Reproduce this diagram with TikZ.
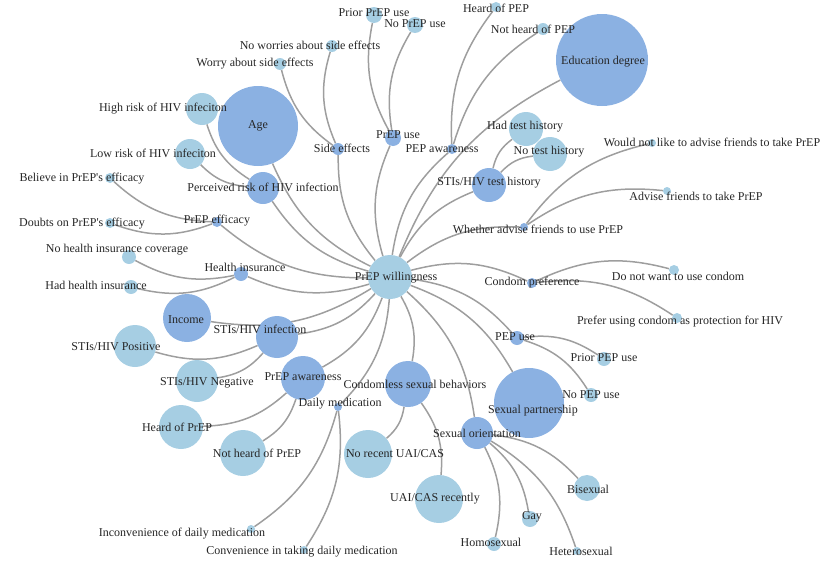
\documentclass[tikz,border=0pt]{standalone}
\usepackage{fontspec}
\setmainfont{Liberation Serif}
\usepackage{tikz}
\usetikzlibrary{backgrounds}

\definecolor{catblue}{RGB}{139,177,226}
\definecolor{lvlblue}{RGB}{166,206,227}
\definecolor{edgegray}{RGB}{158,158,158}

\begin{document}
\begin{tikzpicture}[
    x=1pt, y=-1pt,
    cat/.style={circle, fill=catblue, inner sep=0pt},
    lvl/.style={circle, fill=lvlblue, inner sep=0pt},
    lab/.style={font=\fontsize{12}{14}\selectfont, text=black!85, inner sep=0pt},
    edge/.style={draw=edgegray, line width=1.5pt, bend left=20}
]
\useasboundingbox (0,0) rectangle (831,565);

% centre
\node[lvl, minimum size=44pt] (will) at (390,277) {};

% factors
\node[cat, minimum size=80pt] (age) at (258,126) {};
\node[cat, minimum size=32pt] (risk) at (263,188) {};
\node[cat, minimum size=12pt] (side) at (338,149) {};
\node[cat, minimum size=16pt] (pruse) at (393,138) {};
\node[cat, minimum size=10pt] (pepaw) at (452,149) {};
\node[cat, minimum size=92pt] (edu) at (602,60) {};
\node[cat, minimum size=34pt] (test) at (489,185) {};
\node[cat, minimum size=8pt] (advise) at (524,227) {};
\node[cat, minimum size=10pt] (condom) at (532,283) {};
\node[cat, minimum size=14pt] (pepuse) at (517,338) {};
\node[cat, minimum size=70pt] (partner) at (529,403) {};
\node[cat, minimum size=32pt] (orient) at (477,433) {};
\node[cat, minimum size=46pt] (uai) at (408,384) {};
\node[cat, minimum size=8pt] (daily) at (338,407) {};
\node[cat, minimum size=44pt] (praw) at (303,378) {};
\node[cat, minimum size=42pt] (infect) at (277,337) {};
\node[cat, minimum size=48pt] (income) at (187,318) {};
\node[cat, minimum size=14pt] (insur) at (241,274) {};
\node[cat, minimum size=10pt] (effic) at (217,222) {};

% levels
\node[lvl, minimum size=32pt] (highrisk) at (202,109) {};
\node[lvl, minimum size=30pt] (lowrisk) at (190,154) {};
\node[lvl, minimum size=12pt] (worry) at (280,64) {};
\node[lvl, minimum size=12pt] (noworry) at (332,46) {};
\node[lvl, minimum size=16pt] (priorprep) at (374,15) {};
\node[lvl, minimum size=16pt] (noprep) at (415,25) {};
\node[lvl, minimum size=10pt] (heardpep) at (496,7) {};
\node[lvl, minimum size=12pt] (notpep) at (543,29) {};
\node[lvl, minimum size=34pt] (hadtest) at (526,129) {};
\node[lvl, minimum size=34pt] (notest) at (550,154) {};
\node[lvl, minimum size=8pt] (wouldnot) at (652,143) {};
\node[lvl, minimum size=8pt] (advyes) at (667,191) {};
\node[lvl, minimum size=10pt] (nocondom) at (674,270) {};
\node[lvl, minimum size=10pt] (prefcondom) at (677,318) {};
\node[lvl, minimum size=14pt] (priorpep) at (604,359) {};
\node[lvl, minimum size=14pt] (nopep) at (591,395) {};
\node[lvl, minimum size=26pt] (bisex) at (587,488) {};
\node[lvl, minimum size=16pt] (gay) at (530,519) {};
\node[lvl, minimum size=14pt] (homo) at (494,544) {};
\node[lvl, minimum size=8pt] (hetero) at (577,551) {};
\node[lvl, minimum size=48pt] (norecent) at (368,454) {};
\node[lvl, minimum size=48pt] (recent) at (439,499) {};
\node[lvl, minimum size=8pt] (inconv) at (251,529) {};
\node[lvl, minimum size=8pt] (conv) at (304,550) {};
\node[lvl, minimum size=44pt] (heardprep) at (181,427) {};
\node[lvl, minimum size=46pt] (notprep) at (243,453) {};
\node[lvl, minimum size=42pt] (positive) at (135,346) {};
\node[lvl, minimum size=42pt] (negative) at (197,381) {};
\node[lvl, minimum size=14pt] (nocover) at (129,257) {};
\node[lvl, minimum size=14pt] (hadins) at (131,287) {};
\node[lvl, minimum size=10pt] (believe) at (110,178) {};
\node[lvl, minimum size=10pt] (doubt) at (110,223) {};

% connectors
\begin{scope}[on background layer]
\foreach \f in {age,risk,side,pruse,pepaw,edu,test,advise,condom,pepuse,partner,orient,uai,daily,praw,infect,income,insur,effic}
  \draw[edge] (will) to (\f);
\draw[edge] (risk) to (highrisk);
\draw[edge] (risk) to (lowrisk);
\draw[edge] (side) to (worry);
\draw[edge] (side) to (noworry);
\draw[edge] (pruse) to (priorprep);
\draw[edge] (pruse) to (noprep);
\draw[edge] (pepaw) to (heardpep);
\draw[edge] (pepaw) to (notpep);
\draw[edge] (test) to (hadtest);
\draw[edge] (test) to (notest);
\draw[edge] (advise) to (wouldnot);
\draw[edge] (advise) to (advyes);
\draw[edge] (condom) to (nocondom);
\draw[edge] (condom) to (prefcondom);
\draw[edge] (pepuse) to (priorpep);
\draw[edge] (pepuse) to (nopep);
\draw[edge] (orient) to (bisex);
\draw[edge] (orient) to (gay);
\draw[edge] (orient) to (homo);
\draw[edge] (orient) to (hetero);
\draw[edge] (uai) to (norecent);
\draw[edge] (uai) to (recent);
\draw[edge] (daily) to (inconv);
\draw[edge] (daily) to (conv);
\draw[edge] (praw) to (heardprep);
\draw[edge] (praw) to (notprep);
\draw[edge] (infect) to (positive);
\draw[edge] (infect) to (negative);
\draw[edge] (insur) to (nocover);
\draw[edge] (insur) to (hadins);
\draw[edge] (effic) to (believe);
\draw[edge] (effic) to (doubt);
\end{scope}

% labels
\node[lab] (will-t) at (396,278) {PrEP willingness};
\node[lab] (age-t) at (258,126) {Age};
\node[lab] (risk-t) at (263,187) {Perceived risk of HIV infection};
\node[lab] (side-t) at (342,148) {Side effects};
\node[lab] (pruse-t) at (398,135) {PrEP use};
\node[lab] (pepaw-t) at (442,149) {PEP awareness};
\node[lab] (edu-t) at (603,62) {Education degree};
\node[lab] (test-t) at (489,183) {STIs/HIV test history};
\node[lab] (advise-t) at (538,229) {Whether advise friends to use PrEP};
\node[lab] (condom-t) at (532,283) {Condom preference};
\node[lab] (pepuse-t) at (515,337) {PEP use};
\node[lab] (partner-t) at (533,411) {Sexual partnership};
\node[lab] (orient-t) at (477,433) {Sexual orientation};
\node[lab] (uai-t) at (415,384) {Condomless sexual behaviors};
\node[lab] (daily-t) at (340,404) {Daily medication};
\node[lab] (praw-t) at (303,377) {PrEP awareness};
\node[lab] (infect-t) at (260,329) {STIs/HIV infection};
\node[lab] (income-t) at (186,320) {Income};
\node[lab] (insur-t) at (245,267) {Health insurance};
\node[lab] (effic-t) at (217,221) {PrEP efficacy};

\node[lab] (highrisk-t) at (163,109) {High risk of HIV infeciton};
\node[lab] (lowrisk-t) at (153,153) {Low risk of HIV infeciton};
\node[lab] (worry-t) at (255,64) {Worry about side effects};
\node[lab] (noworry-t) at (310,45) {No worries about side effects};
\node[lab] (priorprep-t) at (374,13) {Prior PrEP use};
\node[lab] (noprep-t) at (415,24) {No PrEP use};
\node[lab] (heardpep-t) at (496,8) {Heard of PEP};
\node[lab] (notpep-t) at (533,29) {Not heard of PEP};
\node[lab] (hadtest-t) at (525,127) {Had test history};
\node[lab] (notest-t) at (549,152) {No test history};
\node[lab] (wouldnot-t) at (712,142) {Would not like to advise friends to take PrEP};
\node[lab] (advyes-t) at (696,196) {Advise friends to take PrEP};
\node[lab] (nocondom-t) at (678,276) {Do not want to use condom};
\node[lab] (prefcondom-t) at (680,322) {Prefer using condom as protection for HIV};
\node[lab] (priorpep-t) at (604,358) {Prior PEP use};
\node[lab] (nopep-t) at (591,395) {No PEP use};
\node[lab] (bisex-t) at (588,489) {Bisexual};
\node[lab] (gay-t) at (532,517) {Gay};
\node[lab] (homo-t) at (491,542) {Homosexual};
\node[lab] (hetero-t) at (581,551) {Heterosexual};
\node[lab] (norecent-t) at (395,454) {No recent UAI/CAS};
\node[lab] (recent-t) at (435,499) {UAI/CAS recently};
\node[lab] (inconv-t) at (182,534) {Inconvenience of daily medication};
\node[lab] (conv-t) at (302,552) {Convenience in taking daily medication};
\node[lab] (heardprep-t) at (177,427) {Heard of PrEP};
\node[lab] (notprep-t) at (257,453) {Not heard of PrEP};
\node[lab] (positive-t) at (116,347) {STIs/HIV Positive};
\node[lab] (negative-t) at (207,383) {STIs/HIV Negative};
\node[lab] (nocover-t) at (117,250) {No health insurance coverage};
\node[lab] (hadins-t) at (96,285) {Had health insurance};
\node[lab] (believe-t) at (82,179) {Believe in PrEP\textquotesingle s efficacy};
\node[lab] (doubt-t) at (82,224) {Doubts on PrEP\textquotesingle s efficacy};

\end{tikzpicture}
\end{document}
